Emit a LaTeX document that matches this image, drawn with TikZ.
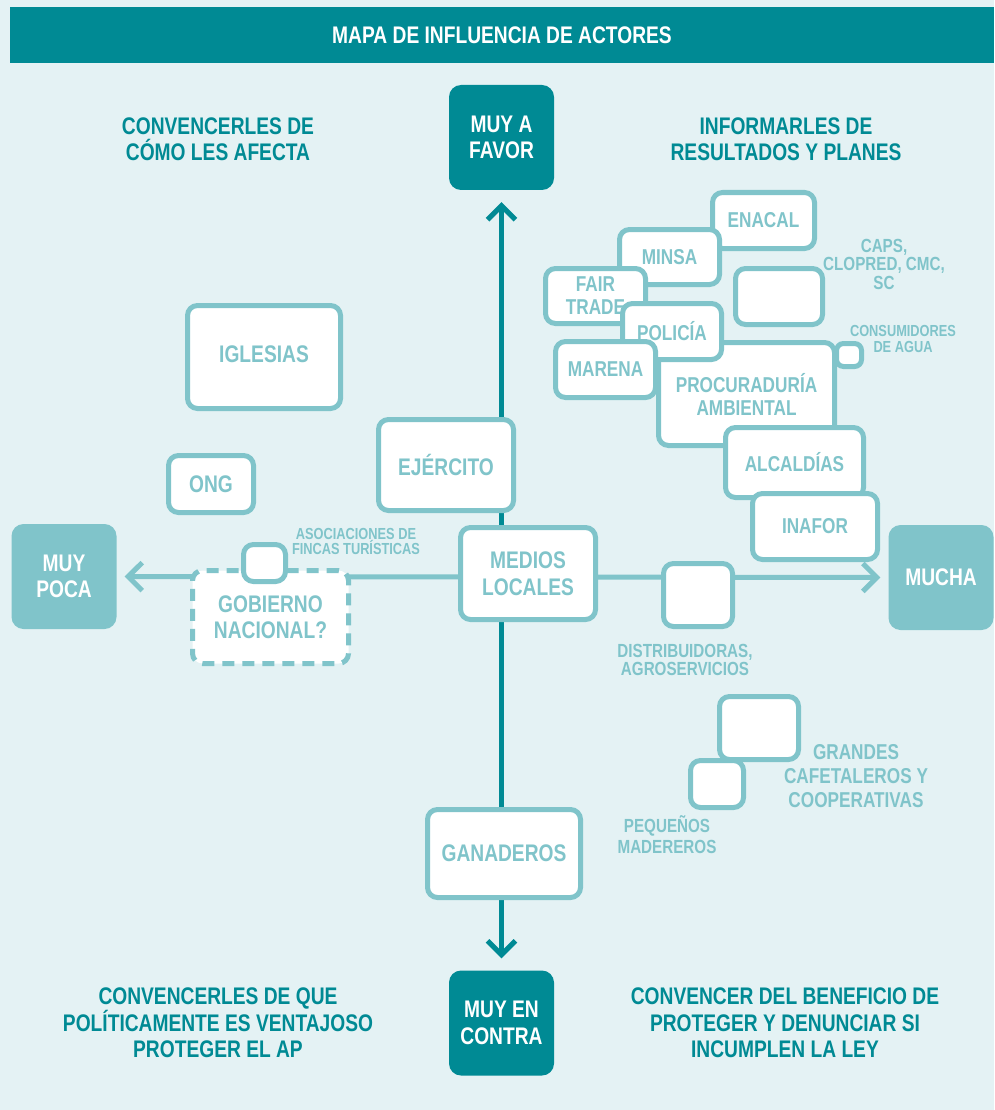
\documentclass[tikz,border=0pt]{standalone}
\usepackage{fontspec}
\newfontfamily\nar[FakeStretch=0.8]{Liberation Sans}
\usetikzlibrary{arrows.meta}
\definecolor{dk}{HTML}{008A94}
\definecolor{lt}{HTML}{80C4CA}
\definecolor{bg}{HTML}{E4F2F4}
\tikzset{
  big/.style={font=\nar\bfseries\fontsize{24}{26.5}\selectfont},
  mid/.style={font=\nar\bfseries\fontsize{21.5}{23}\selectfont},
  box/.style={draw=lt, line width=5pt, fill=white, rounded corners=10pt, text=lt, align=center, inner sep=0pt},
  dbox/.style={box, dash pattern=on 12pt off 8pt},
  hub/.style={fill=#1, rounded corners=12pt, text=white, align=center, inner sep=0pt, minimum width=105pt, minimum height=105pt, big},
  note/.style={text=lt, align=center, inner sep=0pt},
  head/.style={text=dk, align=center, inner sep=0pt, big},
  vax/.style={draw=dk, line width=5pt, {Straight Barb[length=14pt,width=28pt]}-{Straight Barb[length=14pt,width=28pt]}},
  hax/.style={draw=lt, line width=5pt, {Straight Barb[length=14pt,width=28pt]}-{Straight Barb[length=14pt,width=28pt]}},
}
\begin{document}
\begin{tikzpicture}[x=1pt,y=-1pt]
\fill[bg] (0,0) rectangle (994,1110);
\useasboundingbox (0,0) rectangle (994,1110);
% banner
\node[fill=dk, minimum width=984pt, minimum height=56pt, inner sep=0pt, text=white, big] (banner) at (502,35) {MAPA DE INFLUENCIA DE ACTORES};
% hubs
\node[hub=dk] (favor) at (501.5,137.5) {MUY A\\FAVOR};
\node[hub=dk] (contra) at (501.5,1023) {MUY EN\\CONTRA};
\node[hub=lt] (poca) at (64,576.5) {MUY\\POCA};
\node[hub=lt] (mucha) at (941,577.5) {MUCHA};
% axes
\draw[vax, shorten <=12pt, shorten >=12pt] (contra.north) -- (favor.south);
\draw[hax, shorten <=8pt, shorten >=8pt] (mucha.west) -- (poca.east);
% headings
\node[head] (tl) at (218,139) {CONVENCERLES DE\\CÓMO LES AFECTA};
\node[head] (tr) at (786,139) {INFORMARLES DE\\RESULTADOS Y PLANES};
\node[head] (bl) at (218,1023) {CONVENCERLES DE QUE\\POLÍTICAMENTE ES VENTAJOSO\\PROTEGER EL AP};
\node[head] (br) at (785,1023) {CONVENCER DEL BENEFICIO DE\\PROTEGER Y DENUNCIAR SI\\INCUMPLEN LA LEY};
% left side boxes
\node[box, big, minimum width=153pt, minimum height=103pt] (iglesias) at (264,357) {\raisebox{5pt}{IGLESIAS}};
\node[box, big, minimum width=85pt, minimum height=57pt] (ong) at (211,484) {ONG};
\node[box, big, minimum width=135pt, minimum height=91pt] (ejercito) at (446,465) {EJÉRCITO};
\node[box, big, minimum width=135pt, minimum height=92pt] (medios) at (528,573.5) {MEDIOS\\LOCALES};
\node[dbox, big, minimum width=156pt, minimum height=93pt] (gobierno) at (270.5,617) {GOBIERNO\\NACIONAL?};
\node[box, minimum width=42pt, minimum height=37pt] (asocbox) at (264.5,563) {};
\node[note, font=\nar\bfseries\fontsize{16}{15}\selectfont] (asoc) at (356,541) {ASOCIACIONES DE\\FINCAS TURÍSTICAS};
\node[box, big, minimum width=153pt, minimum height=88pt] (ganaderos) at (504,853.5) {GANADEROS};
% right lower
\node[box, minimum width=69pt, minimum height=63pt] (distbox) at (698,595) {};
\node[note, font=\nar\bfseries\fontsize{19}{18}\selectfont] (dist) at (685,660) {DISTRIBUIDORAS,\\AGROSERVICIOS};
\node[box, minimum width=79pt, minimum height=63pt] (grandesbox) at (759,728) {};
\node[box, minimum width=53pt, minimum height=47pt] (pequebox) at (717,784) {};
\node[note, font=\nar\bfseries\fontsize{21.5}{24}\selectfont] (grandes) at (856,776) {GRANDES\\CAFETALEROS Y\\COOPERATIVAS};
\node[note, font=\nar\bfseries\fontsize{19}{21}\selectfont] (peque) at (667,835) {PEQUEÑOS\\MADEREROS};
% cluster
\node[box, mid, minimum width=102pt, minimum height=56pt] (enacal) at (763.5,220.5) {ENACAL};
\node[box, mid, minimum width=100pt, minimum height=55pt] (minsa) at (669.5,257) {MINSA};
\node[box, mid, minimum width=100pt, minimum height=55pt] (fair) at (595.5,296) {FAIR\\TRADE};
\node[box, mid, minimum width=176pt, minimum height=103pt] (procu) at (746.5,394) {PROCURADURÍA\\AMBIENTAL};
\node[box, mid, minimum width=99pt, minimum height=56pt] (policia) at (672,331.5) {POLICÍA};
\node[box, mid, minimum width=100pt, minimum height=56pt] (marena) at (605.5,369.5) {MARENA};
\node[box, minimum width=25pt, minimum height=23pt, rounded corners=7pt] (consbox) at (849,355) {};
\node[box, minimum width=87pt, minimum height=56pt] (blank) at (779,296.5) {};
\node[box, mid, minimum width=138pt, minimum height=70pt] (alcaldias) at (794.5,462.5) {ALCALDÍAS};
\node[box, mid, minimum width=125pt, minimum height=66pt] (inafor) at (815,526.5) {INAFOR};
\node[note, font=\nar\bfseries\fontsize{19}{18.5}\selectfont] (caps) at (884,264) {CAPS,\\CLOPRED, CMC,\\SC};
\node[note, font=\nar\bfseries\fontsize{16}{16}\selectfont] (cons) at (903,339) {CONSUMIDORES\\DE AGUA};
\end{tikzpicture}
\end{document}
